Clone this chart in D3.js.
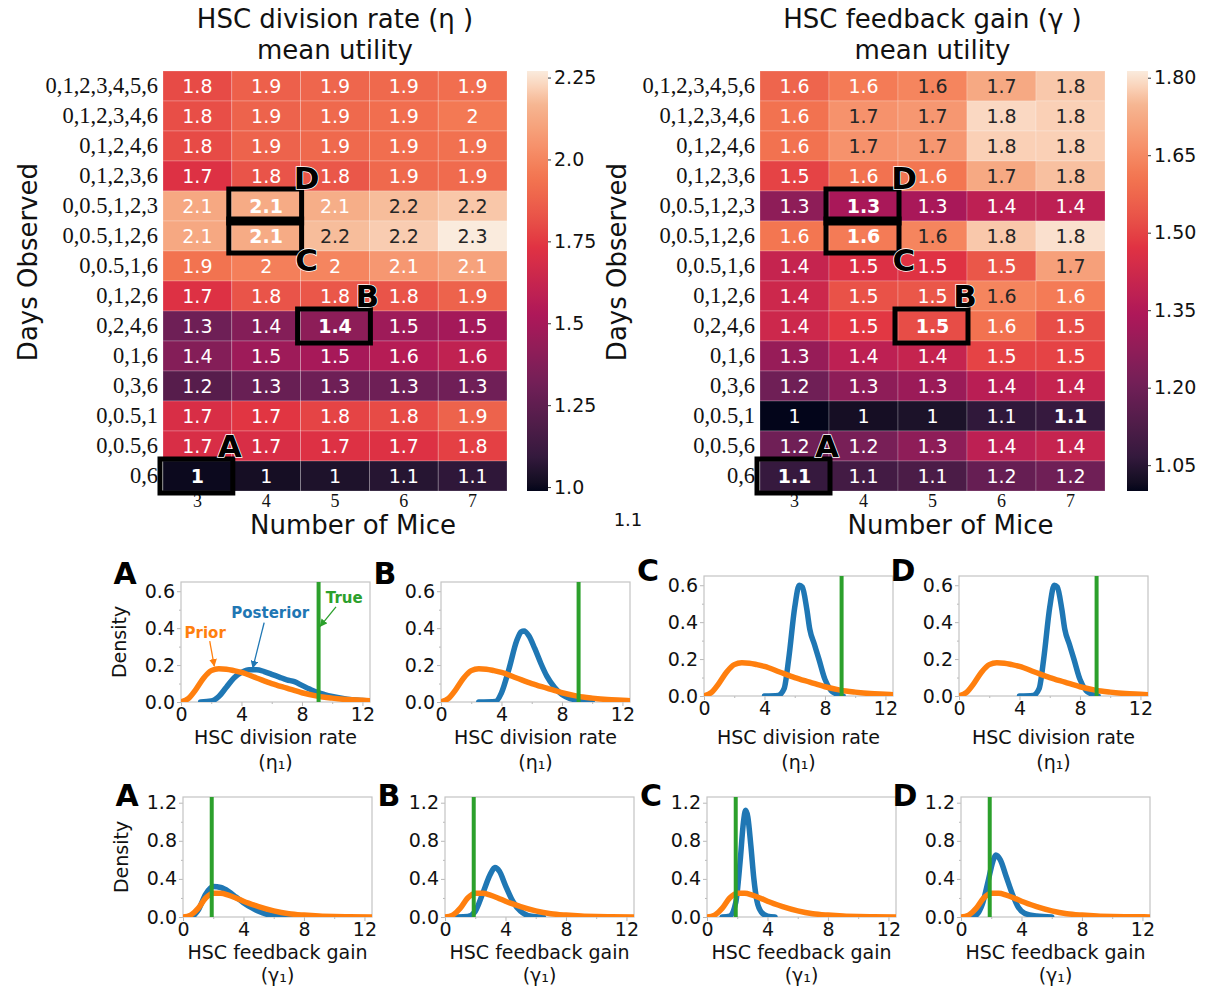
<!DOCTYPE html>
<html><head><meta charset="utf-8">
<script src="https://cdn.jsdelivr.net/npm/d3@7"></script>
<style>body{margin:0;background:#fff} svg{display:block}</style>
</head><body>
<svg id="c" width="1206" height="991"></svg>
<script>
// ---------------- DATA ----------------
const daysObserved = ["0,1,2,3,4,5,6","0,1,2,3,4,6","0,1,2,4,6","0,1,2,3,6","0,0.5,1,2,3","0,0.5,1,2,6","0,0.5,1,6","0,1,2,6","0,2,4,6","0,1,6","0,3,6","0,0.5,1","0,0.5,6","0,6"];
const numberOfMice = [3,4,5,6,7];

const etaUtility = [
  [1.80,1.87,1.89,1.90,1.92],
  [1.81,1.88,1.90,1.92,1.96],
  [1.80,1.88,1.90,1.92,1.93],
  [1.72,1.83,1.84,1.90,1.91],
  [2.12,2.13,2.14,2.18,2.20],
  [2.12,2.13,2.18,2.21,2.27],
  [1.94,1.98,2.00,2.06,2.10],
  [1.72,1.83,1.84,1.83,1.88],
  [1.30,1.38,1.41,1.47,1.49],
  [1.38,1.47,1.50,1.56,1.60],
  [1.22,1.28,1.30,1.30,1.31],
  [1.70,1.74,1.78,1.80,1.88],
  [1.70,1.70,1.72,1.72,1.77],
  [1.00,1.02,1.04,1.06,1.08]
];
const gammaUtility = [
  [1.57,1.62,1.64,1.72,1.77],
  [1.60,1.67,1.68,1.79,1.78],
  [1.60,1.67,1.68,1.78,1.78],
  [1.50,1.60,1.61,1.72,1.76],
  [1.27,1.33,1.33,1.38,1.38],
  [1.61,1.62,1.64,1.77,1.80],
  [1.40,1.46,1.47,1.54,1.70],
  [1.42,1.53,1.54,1.64,1.62],
  [1.42,1.48,1.52,1.60,1.52],
  [1.29,1.38,1.40,1.50,1.50],
  [1.20,1.27,1.30,1.37,1.40],
  [1.00,1.02,1.03,1.06,1.07],
  [1.20,1.22,1.27,1.38,1.40],
  [1.07,1.10,1.12,1.18,1.20]
];
const etaColorRange = [0.988, 2.27];
const gammaColorRange = [1.0, 1.813];
const etaColorbarTicks = [1.0,1.25,1.5,1.75,2.0,2.25];
const etaColorbarLabels = ["1.0","1.25","1.5","1.75","2.0","2.25"];
const gammaColorbarTicks = [1.05,1.20,1.35,1.50,1.65,1.80];
const gammaColorbarLabels = ["1.05","1.20","1.35","1.50","1.65","1.80"];
const highlightedCells = [
  {label:"A", row:13, col:0},
  {label:"B", row:8, col:2},
  {label:"C", row:5, col:1},
  {label:"D", row:4, col:1}
];
const gammaExtraBold = [{row:11, col:4}];

const etaTrue = 9.1;
const gammaTrue = 1.9;
const densityXTicks = [0,4,8,12];
const densityXMinor = [2,6,10];
const etaYTicks = [0.0,0.2,0.4,0.6];
const etaYMinor = [0.1,0.3,0.5];
const gammaYTicks = [0.0,0.4,0.8,1.2];
const gammaYMinor = [0.2,0.6,1.0];

const etaPrior = [[0,0],[0.5,0.02],[1,0.07],[1.5,0.13],[2,0.17],[2.5,0.18],[3,0.178],[3.5,0.17],[4,0.16],[5,0.13],[6,0.10],[7,0.075],[8,0.05],[9,0.032],[10,0.021],[11,0.013],[12,0.009],[12.5,0.007]];
const etaPosteriorA = [[1.3,0],[2,0.005],[2.5,0.03],[3,0.08],[3.5,0.13],[4,0.16],[4.5,0.175],[5,0.175],[5.5,0.165],[6,0.15],[6.5,0.135],[7,0.12],[7.5,0.11],[8,0.09],[8.5,0.07],[9,0.052],[9.5,0.04],[10,0.03],[11,0.015],[12,0.008],[12.5,0.005]];
const etaPosteriorB = [[2.5,0],[3.6,0.003],[4,0.05],[4.5,0.18],[5,0.33],[5.3,0.38],[5.5,0.385],[5.8,0.36],[6.2,0.29],[6.6,0.21],[7,0.14],[7.5,0.08],[8,0.04],[8.5,0.02],[9,0.01],[9.5,0.005],[10,0.002]];
const etaPosteriorC = [[4,0],[4.9,0.003],[5.3,0.04],[5.6,0.2],[6,0.48],[6.3,0.6],[6.5,0.59],[6.8,0.47],[7,0.36],[7.3,0.28],[7.6,0.2],[8,0.09],[8.4,0.03],[8.8,0.01],[9.2,0.0]];
const etaPosteriorD = [[4,0],[4.9,0.003],[5.3,0.04],[5.6,0.2],[6,0.48],[6.3,0.6],[6.5,0.59],[6.8,0.47],[7,0.36],[7.3,0.28],[7.6,0.2],[8,0.09],[8.4,0.03],[8.8,0.01],[9.2,0.0]];
const gammaPrior = [[0,0],[0.5,0.02],[1,0.09],[1.5,0.2],[2,0.25],[2.5,0.25],[3,0.23],[3.5,0.2],[4,0.165],[5,0.11],[6,0.065],[7,0.035],[8,0.02],[9,0.01],[10,0.005],[11,0.003],[12.5,0.001]];
const gammaPosteriorA = [[0.6,0],[1,0.07],[1.5,0.24],[2,0.32],[2.5,0.31],[3,0.27],[3.5,0.21],[4,0.15],[4.5,0.1],[5,0.06],[5.5,0.03],[6,0.015],[7,0.003],[8,0]];
const gammaPosteriorB = [[0.8,0],[1.5,0.005],[2,0.06],[2.5,0.25],[3,0.45],[3.3,0.52],[3.6,0.48],[4,0.33],[4.5,0.16],[5,0.06],[5.5,0.015],[6,0.003],[6.5,0]];
const gammaPosteriorC = [[1,0],[1.5,0.01],[1.9,0.15],[2.2,0.6],[2.4,0.98],[2.55,1.12],[2.7,1.05],[2.9,0.75],[3.1,0.4],[3.3,0.17],[3.6,0.05],[4,0.01],[4.5,0]];
const gammaPosteriorD = [[0.6,0],[1,0.02],[1.4,0.13],[1.8,0.38],[2.1,0.58],[2.3,0.65],[2.6,0.6],[3,0.42],[3.4,0.24],[3.8,0.1],[4.2,0.04],[5,0.01],[6,0]];

// ---------------- COLORMAP (rocket) ----------------
const rocketColors = ["#03051a","#35193e","#701f57","#ad1759","#e13342","#f37651","#f6b48f","#faebdd"];
const rocketPos = [0,1/12,3/12,5/12,7/12,9/12,11/12,1];
const rocket = d3.scaleLinear().domain(rocketPos).range(rocketColors).interpolate(d3.interpolateLab).clamp(true);

const svg = d3.select("#c");
const SANS = "DejaVu Sans";
const SERIF = "Liberation Serif";
const fmt = d3.format(".2~g");

function drawHeatmap(cfg) {
  const g = svg.append("g");
  const x = d3.scaleBand().domain(numberOfMice).range([cfg.x, cfg.x + cfg.w]);
  const y = d3.scaleBand().domain(daysObserved).range([cfg.y, cfg.y + cfg.h]);
  const norm = d3.scaleLinear().domain(cfg.range).range([0,1]).clamp(true);
  const cells = [];
  cfg.values.forEach((row,i)=>row.forEach((v,j)=>cells.push({i,j,v})));
  const boldSet = new Set(highlightedCells.map(h=>h.row+"_"+h.col).concat((cfg.extraBold||[]).map(h=>h.row+"_"+h.col)));
  g.selectAll("rect.cell").data(cells).join("rect")
    .attr("x", d=>x(numberOfMice[d.j])).attr("y", d=>y(daysObserved[d.i]))
    .attr("width", x.bandwidth()).attr("height", y.bandwidth())
    .attr("fill", d=>rocket(norm(d.v)))
    .attr("stroke","rgba(255,255,255,0.28)").attr("stroke-width",0.8);
  g.selectAll("text.val").data(cells).join("text")
    .attr("x", d=>x(numberOfMice[d.j]) + x.bandwidth()/2)
    .attr("y", d=>y(daysObserved[d.i]) + y.bandwidth()/2 + 7)
    .attr("text-anchor","middle")
    .attr("font-family", SANS).attr("font-size", 19)
    .attr("font-weight", d=>boldSet.has(d.i+"_"+d.j) ? "bold" : "normal")
    .attr("fill", d=> d.v >= cfg.darkAbove ? "#262626" : "#ffffff")
    .text(d=>fmt(d.v));

  // y axis
  const ya = g.append("g").attr("transform",`translate(${cfg.x},0)`)
    .call(d3.axisLeft(y).tickSize(0).tickPadding(5));
  ya.select(".domain").remove();
  ya.selectAll("text").attr("font-family", SERIF).attr("font-size", 22.5).attr("fill","#111");
  // x axis
  const xa = g.append("g").attr("transform",`translate(0,${cfg.y+cfg.h})`)
    .call(d3.axisBottom(x).tickSize(0).tickPadding(3));
  xa.select(".domain").remove();
  xa.selectAll("text").attr("font-family", SERIF).attr("font-size", 18).attr("fill","#111");

  // boxes
  highlightedCells.forEach(h=>{
    const bx = x(numberOfMice[h.col]), by = y(daysObserved[h.row]);
    g.append("rect").attr("x", bx-3).attr("y", by-2)
      .attr("width", x.bandwidth()+4).attr("height", y.bandwidth()+4)
      .attr("fill","none").attr("stroke","#000").attr("stroke-width",5);
    const rOff = h.label === "C" ? 1 : -1;
    const lx = bx + x.bandwidth() + (h.label==="C"||h.label==="D" ? 6 : -2);
    const ly = y(daysObserved[h.row + rOff]) + y.bandwidth()/2 + (h.label==="C" ? -6 : (h.label==="D"?2:0));
    g.append("text").attr("x", lx).attr("y", ly + 11)
      .attr("text-anchor","middle").attr("font-family", SANS).attr("font-size", 31).attr("font-weight","bold")
      .attr("fill","#000").attr("stroke","#fff").attr("stroke-width",1.5).attr("paint-order","stroke")
      .text(h.label);
  });

  // titles
  const cx = cfg.x + cfg.w/2;
  g.append("text").attr("x", cx).attr("y", 28).attr("text-anchor","middle")
    .attr("font-family", SANS).attr("font-size", 26).attr("fill","#111").text(cfg.title);
  g.append("text").attr("x", cx).attr("y", 59).attr("text-anchor","middle")
    .attr("font-family", SANS).attr("font-size", 26).attr("fill","#111").text("mean utility");
  g.append("text").attr("x", cx + 18).attr("y", 534).attr("text-anchor","middle")
    .attr("font-family", SANS).attr("font-size", 26).attr("fill","#111").text("Number of Mice");
  g.append("text").attr("transform",`translate(${cfg.ylabX},262) rotate(-90)`).attr("text-anchor","middle")
    .attr("font-family", SANS).attr("font-size", 26).attr("fill","#111").attr("dy","0.35em").text("Days Observed");

  // colorbar
  const gid = "grad" + cfg.id;
  const grad = svg.append("defs").append("linearGradient").attr("id", gid)
    .attr("x1",0).attr("y1",1).attr("x2",0).attr("y2",0);
  d3.range(0, 1.0001, 0.02).forEach(t=>grad.append("stop").attr("offset", t).attr("stop-color", rocket(t)));
  g.append("rect").attr("x", cfg.cbX).attr("y", cfg.y).attr("width", 21).attr("height", cfg.h).attr("fill", `url(#${gid})`);
  const cs = d3.scaleLinear().domain(cfg.range).range([cfg.y + cfg.h, cfg.y]);
  const ca = g.append("g").attr("transform",`translate(${cfg.cbX+21},0)`)
    .call(d3.axisRight(cs).tickValues(cfg.ticks).tickFormat((d,i)=>cfg.tickLabels[i]).tickSize(3).tickPadding(3));
  ca.select(".domain").remove();
  ca.selectAll("line").attr("stroke","#333");
  ca.selectAll("text").attr("font-family", SANS).attr("font-size", 19).attr("fill","#111");
}

drawHeatmap({id:"eta", x:163, y:71, w:344, h:420, values:etaUtility, range:etaColorRange, darkAbove:2.15,
  ticks:etaColorbarTicks, tickLabels:etaColorbarLabels, cbX:527, ylabX:28, title:"HSC division rate (\u03B7 )"});
drawHeatmap({id:"gamma", x:760, y:71, w:345, h:420, values:gammaUtility, range:gammaColorRange, darkAbove:1.635,
  ticks:gammaColorbarTicks, tickLabels:gammaColorbarLabels, cbX:1127, ylabX:617, title:"HSC feedback gain (\u03B3 )", extraBold:gammaExtraBold});

svg.append("text").attr("x",628).attr("y",526).attr("text-anchor","middle").attr("font-family",SANS).attr("font-size",18).attr("fill","#111").text("1.1");

// ---------------- DENSITY PANELS ----------------
const COL_PRIOR = "#ff7f0e", COL_POST = "#1f77b4", COL_TRUE = "#2ca02c";
let clipN = 0;
function drawDensity(p) {
  const g = svg.append("g");
  const w = 189, h = 120;
  const x = d3.scaleLinear().domain([0,12.5]).range([p.left, p.left + w]);
  const y = d3.scaleLinear().domain([0,p.ymax]).range([p.top + h, p.top]);
  const cid = "clip" + (clipN++);
  svg.append("defs").append("clipPath").attr("id",cid).append("rect")
    .attr("x",p.left).attr("y",p.top-2).attr("width",w).attr("height",h+2);
  // axes
  const xa = g.append("g").attr("transform",`translate(0,${p.top+h})`)
    .call(d3.axisBottom(x).tickValues(densityXTicks).tickFormat(d3.format("d")).tickSize(4).tickPadding(2));
  const xm = g.append("g").attr("transform",`translate(0,${p.top+h})`)
    .call(d3.axisBottom(x).tickValues(densityXMinor).tickFormat("").tickSize(2));
  const ya = g.append("g").attr("transform",`translate(${p.left},0)`)
    .call(d3.axisLeft(y).tickValues(p.yticks).tickFormat(d3.format(".1f")).tickSize(4).tickPadding(2));
  const ym = g.append("g").attr("transform",`translate(${p.left},0)`)
    .call(d3.axisLeft(y).tickValues(p.yminor).tickFormat("").tickSize(2));
  [xa,xm,ya,ym].forEach(a=>{a.select(".domain").remove(); a.selectAll("line").attr("stroke","#b8b8b8");});
  [xa,ya].forEach(a=>a.selectAll("text").attr("font-family",SANS).attr("font-size",19).attr("fill","#111"));
  g.append("rect").attr("x",p.left).attr("y",p.top).attr("width",w).attr("height",h)
    .attr("fill","none").attr("stroke","#c4c4c4").attr("stroke-width",1.2);

  const line = d3.line().x(d=>x(d[0])).y(d=>y(d[1])).curve(d3.curveMonotoneX);
  const pg = g.append("g").attr("clip-path",`url(#${cid})`);
  pg.append("path").attr("d", line(p.posterior)).attr("fill","none").attr("stroke",COL_POST).attr("stroke-width",5.5).attr("stroke-linejoin","round").attr("stroke-linecap","round");
  pg.append("path").attr("d", line(p.prior)).attr("fill","none").attr("stroke",COL_PRIOR).attr("stroke-width",5.5).attr("stroke-linejoin","round").attr("stroke-linecap","round");
  pg.append("line").attr("x1",x(p.trueVal)).attr("x2",x(p.trueVal)).attr("y1",y(0)).attr("y2",y(p.ymax))
    .attr("stroke",COL_TRUE).attr("stroke-width",4);

  // labels
  const cx = p.left + w/2;
  g.append("text").attr("x",cx).attr("y",p.labelY).attr("text-anchor","middle")
    .attr("font-family",SANS).attr("font-size",19).attr("fill","#111").text(p.xlabel);
  g.append("text").attr("x",cx).attr("y",p.subY).attr("text-anchor","middle")
    .attr("font-family",SANS).attr("font-size",19).attr("fill","#111").text(p.xsub);
  g.append("text").attr("x",p.left-56).attr("y",p.letterY).attr("text-anchor","middle")
    .attr("font-family",SANS).attr("font-size",30).attr("font-weight","bold").attr("fill","#000").text(p.letter);
  if (p.letter === "A") {
    g.append("text").attr("transform",`translate(${p.left-62},${p.top+h/2}) rotate(-90)`).attr("text-anchor","middle")
      .attr("dy","0.35em").attr("font-family",SANS).attr("font-size",19).attr("fill","#111").text("Density");
  }
  if (p.annotate) {
    const defs = svg.append("defs");
    [["arrG",COL_TRUE],["arrB",COL_POST],["arrO",COL_PRIOR]].forEach(([id,c])=>{
      defs.append("marker").attr("id",id).attr("viewBox","0 0 10 10").attr("refX",9).attr("refY",5)
        .attr("markerWidth",6).attr("markerHeight",6).attr("orient","auto-start-reverse")
        .append("path").attr("d","M0,0 L10,5 L0,10 Z").attr("fill",c);
    });
    const ann = [
      {t:"True", c:COL_TRUE, m:"arrG", tx:10.8, ty:0.565, ax0:10.25, ay0:0.515, ax1:9.2, ay1:0.41},
      {t:"Posterior", c:COL_POST, m:"arrB", tx:5.9, ty:0.48, ax0:5.5, ay0:0.43, ax1:4.75, ay1:0.185},
      {t:"Prior", c:COL_PRIOR, m:"arrO", tx:1.6, ty:0.375, ax0:1.9, ay0:0.33, ax1:2.2, ay1:0.195}
    ];
    ann.forEach(a=>{
      g.append("line").attr("x1",x(a.ax0)).attr("y1",y(a.ay0)).attr("x2",x(a.ax1)).attr("y2",y(a.ay1))
        .attr("stroke",a.c).attr("stroke-width",1.3).attr("marker-end",`url(#${a.m})`);
      g.append("text").attr("x",x(a.tx)).attr("y",y(a.ty)+5).attr("text-anchor","middle")
        .attr("font-family",SANS).attr("font-size",15).attr("font-weight","bold").attr("fill",a.c).text(a.t);
    });
  }
}

const row1Lefts = [181,441,704,959], row1Tops = [582,582,576,576], row1LetterY = [584,584,581,581];
const row2Lefts = [183,445,707,961], row2Tops = [797,797,797,797], row2LetterY = [806,806,806,806];
const letters = ["A","B","C","D"];
const etaPosts = [etaPosteriorA, etaPosteriorB, etaPosteriorC, etaPosteriorD];
const gammaPosts = [gammaPosteriorA, gammaPosteriorB, gammaPosteriorC, gammaPosteriorD];
letters.forEach((L,i)=>{
  drawDensity({left:row1Lefts[i], top:row1Tops[i], ymax:0.65, yticks:etaYTicks, yminor:etaYMinor,
    posterior:etaPosts[i], prior:etaPrior, trueVal:etaTrue, letter:L, letterY:row1LetterY[i],
    xlabel:"HSC division rate", xsub:"(\u03B7\u2081)", labelY:744, subY:769, annotate: i===0});
  drawDensity({left:row2Lefts[i], top:row2Tops[i], ymax:1.26, yticks:gammaYTicks, yminor:gammaYMinor,
    posterior:gammaPosts[i], prior:gammaPrior, trueVal:gammaTrue, letter:L, letterY:row2LetterY[i],
    xlabel:"HSC feedback gain", xsub:"(\u03B3\u2081)", labelY:959, subY:982, annotate:false});
});
</script>
</body></html>
